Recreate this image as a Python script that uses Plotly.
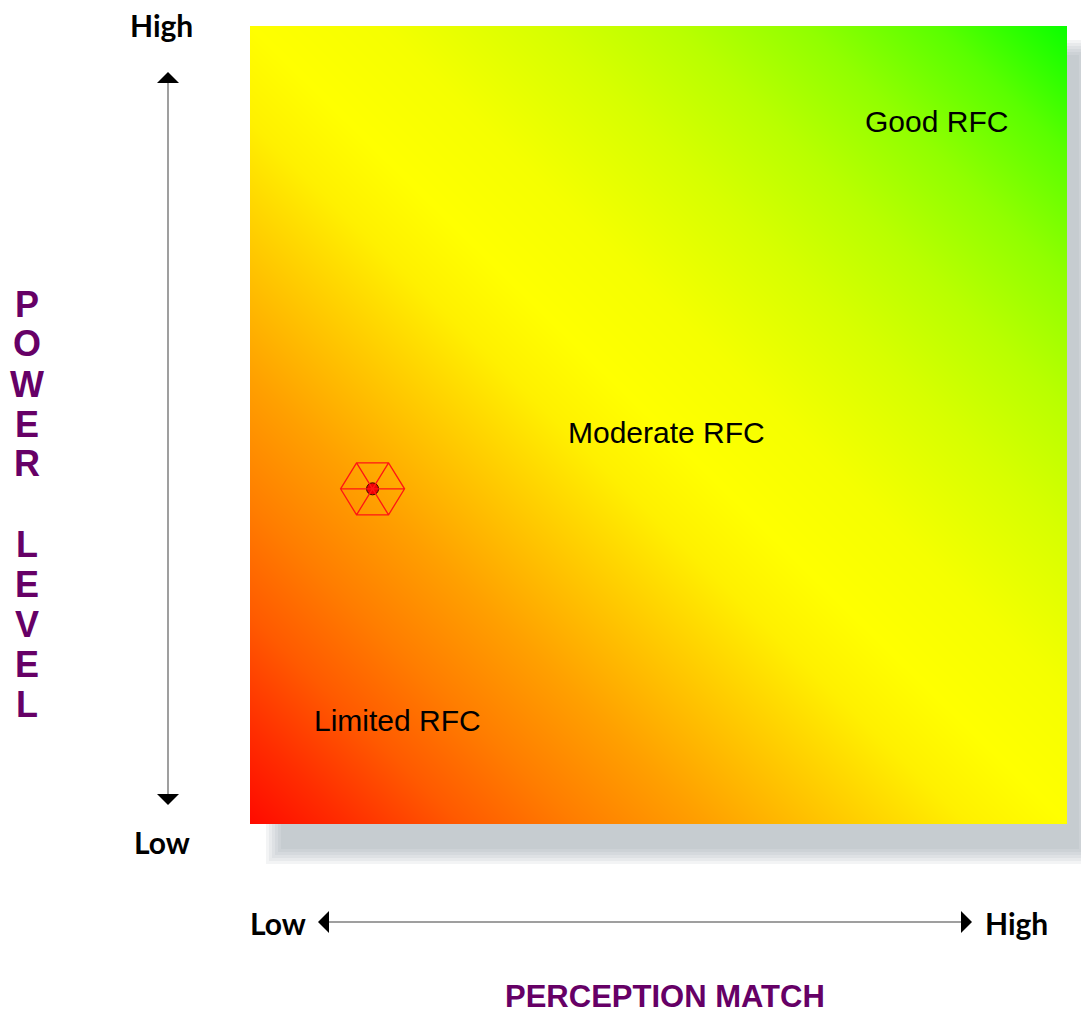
import plotly.graph_objects as go

# ---------------- data ----------------
perception_levels = [0, 10]          # x grid (Low -> High)
power_levels = [0, 10]               # y grid (Low -> High)
rfc_score = [[0, 1],                 # row at power=0
             [1, 2]]                 # row at power=10

point_perception = [1.5]
point_power = [4.2]

zone_labels = ["Limited RFC", "Moderate RFC", "Good RFC"]
zone_x = [1.8, 5.1, 8.4]
zone_y = [1.3, 4.9, 8.8]

x_title = "PERCEPTION MATCH"
y_title = "POWER LEVEL"
low_label = "Low"
high_label = "High"

# ---------------- layout helpers ----------------
OFF = 8                      # page body margin
W, H = 1089 - OFF, 1016 - OFF
def X(px): return (px - OFF) / W
def Y(py): return 1 - (py - OFF) / H

PL, PR, PT, PB = 250, 1067, 26, 824  # plot square in page pixels

colorscale = [
    [0.00, "rgb(255,10,0)"], [0.06, "rgb(255,45,0)"], [0.13, "rgb(255,90,0)"],
    [0.20, "rgb(255,125,0)"], [0.28, "rgb(255,160,0)"], [0.36, "rgb(255,200,0)"],
    [0.44, "rgb(255,240,0)"], [0.50, "rgb(255,255,0)"], [0.58, "rgb(245,255,0)"],
    [0.68, "rgb(215,255,0)"], [0.76, "rgb(185,255,0)"], [0.84, "rgb(145,255,0)"],
    [0.92, "rgb(90,255,0)"], [1.00, "rgb(10,255,0)"],
]

fig = go.Figure()
fig.add_trace(go.Heatmap(
    x=perception_levels, y=power_levels, z=rfc_score,
    zsmooth="best", colorscale=colorscale, zmin=0, zmax=2,
    showscale=False, hoverinfo="skip",
))
fig.add_trace(go.Scatter(
    x=point_perception, y=point_power, mode="markers",
    marker=dict(size=12, color="rgb(240,0,0)", line=dict(color="#3a0000", width=1)),
    hoverinfo="skip", showlegend=False,
))

shapes = []
# drop shadow (stacked translucent rects to fake blur)
for k in range(6):
    shapes.append(dict(
        type="rect", xref="paper", yref="paper", layer="below",
        x0=X(266 + 3 * k), x1=X(1094 - 3 * k), y0=Y(864 - 3 * k), y1=Y(40 + 3 * k),
        fillcolor="rgba(150,152,165,0.11)", line=dict(width=0),
    ))

# hexagon glyph around the point
hexpath = ("M-32,0 L-16,26 L16,26 L32,0 L16,-26 L-16,-26 Z "
           "M-32,0 L32,0 M-16,26 L16,-26 M16,26 L-16,-26")
shapes.append(dict(
    type="path", xref="x", yref="y", xsizemode="pixel", ysizemode="pixel",
    xanchor=point_perception[0], yanchor=point_power[0], path=hexpath,
    line=dict(color="rgb(255,20,20)", width=1.3), layer="above",
))

# arrows
def pth(pts):
    return "M " + " L ".join(f"{X(a)},{Y(b)}" for a, b in pts) + " Z"

gray = "#7f7f7f"
shapes.append(dict(type="line", xref="paper", yref="paper",
                   x0=X(168), x1=X(168), y0=Y(82), y1=Y(794),
                   line=dict(color=gray, width=1.5)))
shapes.append(dict(type="path", xref="paper", yref="paper",
                   path=pth([(168, 72), (157, 83), (179, 83)]),
                   fillcolor="black", line=dict(width=0)))
shapes.append(dict(type="path", xref="paper", yref="paper",
                   path=pth([(168, 805), (157, 794), (179, 794)]),
                   fillcolor="black", line=dict(width=0)))
shapes.append(dict(type="line", xref="paper", yref="paper",
                   x0=X(328), x1=X(962), y0=Y(922), y1=Y(922),
                   line=dict(color=gray, width=1.5)))
shapes.append(dict(type="path", xref="paper", yref="paper",
                   path=pth([(318, 922), (329, 911), (329, 933)]),
                   fillcolor="black", line=dict(width=0)))
shapes.append(dict(type="path", xref="paper", yref="paper",
                   path=pth([(972, 922), (961, 911), (961, 933)]),
                   fillcolor="black", line=dict(width=0)))

ann = []
bold_font = dict(family="Lato, Liberation Sans", size=30, color="black", weight="bold")
def pa(text, px, py, font):
    ann.append(dict(text=text, x=X(px), y=Y(py), xref="paper", yref="paper",
                    xanchor="center", yanchor="middle", showarrow=False, font=font))

pa(high_label, 161, 25, bold_font)
pa(low_label, 162, 842, bold_font)
pa(low_label, 278, 923, bold_font)
pa(high_label, 1016, 923, bold_font)

pa(x_title, 665, 996, dict(family="Liberation Sans", size=31, color="#660066", weight="bold"))

letters = list(y_title)
for i, ch in enumerate(letters):
    if ch.strip():
        pa(ch, 27, 304 + 40 * i,
           dict(family="Liberation Sans Narrow, Liberation Sans", size=36,
                color="#660066", weight="bold"))

for t, zx, zy in zip(zone_labels, zone_x, zone_y):
    ann.append(dict(text=t, x=zx, y=zy, xref="x", yref="y", showarrow=False,
                    xanchor="center", yanchor="middle",
                    font=dict(family="Liberation Sans", size=30, color="black")))

fig.update_layout(
    width=W, height=H, autosize=False,
    margin=dict(l=0, r=0, t=0, b=0),
    paper_bgcolor="white", plot_bgcolor="white",
    xaxis=dict(domain=[X(PL), X(PR)], range=[0, 10], visible=False, fixedrange=True),
    yaxis=dict(domain=[Y(PB), Y(PT)], range=[0, 10], visible=False, fixedrange=True),
    shapes=shapes, annotations=ann, showlegend=False,
)

fig.write_html("out.html")
